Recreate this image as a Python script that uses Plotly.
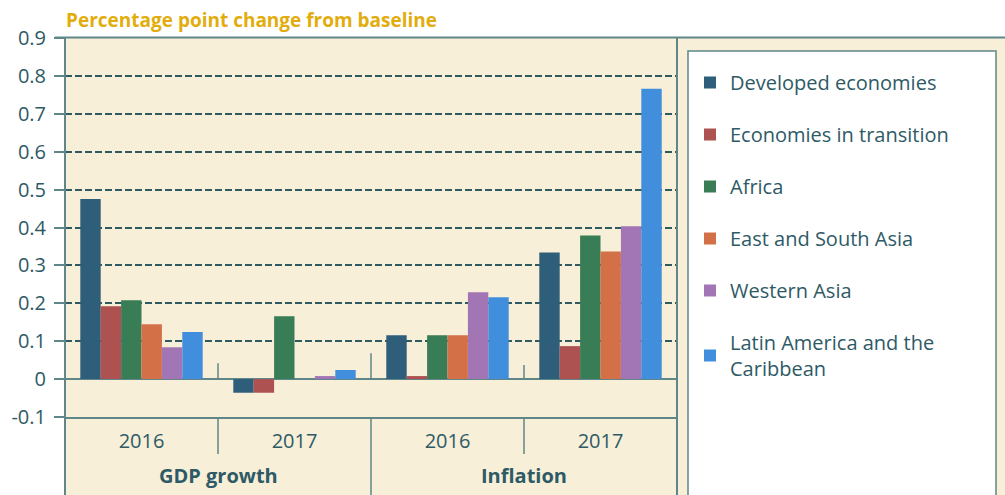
import plotly.graph_objects as go

# Scenario results: percentage point change from baseline
categories = ["GDP growth|2016", "GDP growth|2017", "Inflation|2016", "Inflation|2017"]
year_labels = ["2016", "2017", "2016", "2017"]
indicator_labels = ["GDP growth", "Inflation"]

series_names = [
    "Developed economies",
    "Economies in transition",
    "Africa",
    "East and South Asia",
    "Western Asia",
    "Latin America and the<br>Caribbean",
]
developed = [0.475, -0.036, 0.116, 0.334]
transition = [0.192, -0.036, 0.008, 0.087]
africa = [0.208, 0.166, 0.116, 0.379]
east_south_asia = [0.145, 0.0, 0.116, 0.337]
western_asia = [0.084, 0.008, 0.229, 0.403]
latin_america = [0.124, 0.024, 0.216, 0.766]

series_values = [developed, transition, africa, east_south_asia, western_asia, latin_america]
series_colors = ["#2e5e7a", "#ad5151", "#397d57", "#d47047", "#a276b4", "#418fdc"]

y_ticks = [-0.1, 0, 0.1, 0.2, 0.3, 0.4, 0.5, 0.6, 0.7, 0.8, 0.9]
y_tick_labels = ["-0.1", "0", "0.1", "0.2", "0.3", "0.4", "0.5", "0.6", "0.7", "0.8", "0.9"]

W, H = 1005, 495
FONT = "Open Sans"
TEXT = "#2e5a66"
LINE = "#5f8789"
CREAM = "#f7efd8"
GOLD = "#e2ad0c"


def px_x(p):
    return p / W


def px_y(p):
    return 1 - p / H


fig = go.Figure()
for i, (name, vals, col) in enumerate(zip(series_names, series_values, series_colors)):
    fig.add_trace(go.Bar(
        x=categories, y=vals, name=name, marker_color=col,
        marker_line_width=0, legendgroup=f"g{i}",
    ))

shapes = [
    # cream panel behind chart and key
    dict(type="rect", xref="paper", yref="paper", x0=px_x(65), x1=1.0,
         y0=0, y1=px_y(37), fillcolor=CREAM, line_width=0, layer="below"),
    # white key box
    dict(type="rect", xref="paper", yref="paper", x0=px_x(688), x1=px_x(996),
         y0=-0.05, y1=px_y(51), fillcolor="white",
         line=dict(color=LINE, width=1.5), layer="below"),
    # top rule at 0.9
    dict(type="line", xref="paper", yref="paper", x0=px_x(55), x1=1.0,
         y0=px_y(37.5), y1=px_y(37.5), line=dict(color=LINE, width=2)),
    # left frame line
    dict(type="line", xref="paper", yref="paper", x0=px_x(65), x1=px_x(65),
         y0=0, y1=px_y(37.5), line=dict(color=LINE, width=2)),
    # right frame line of the plot
    dict(type="line", xref="paper", yref="paper", x0=px_x(677), x1=px_x(677),
         y0=0, y1=px_y(37.5), line=dict(color=LINE, width=2)),
    # divider between indicators
    dict(type="line", xref="x", yref="paper", x0=1.5, x1=1.5,
         y0=0, y1=px_y(417), line=dict(color=LINE, width=1.5)),
    # dividers between years
    dict(type="line", xref="x", yref="paper", x0=0.5, x1=0.5,
         y0=px_y(454), y1=px_y(417), line=dict(color=LINE, width=1.5)),
    dict(type="line", xref="x", yref="paper", x0=2.5, x1=2.5,
         y0=px_y(454), y1=px_y(417), line=dict(color=LINE, width=1.5)),
    # short separators above the zero line
    dict(type="line", xref="x", yref="y", x0=0.5, x1=0.5, y0=0, y1=0.042,
         line=dict(color=LINE, width=1.5)),
    dict(type="line", xref="x", yref="y", x0=1.5, x1=1.5, y0=0, y1=0.068,
         line=dict(color=LINE, width=1.5)),
    dict(type="line", xref="x", yref="y", x0=2.5, x1=2.5, y0=0, y1=0.037,
         line=dict(color=LINE, width=1.5)),
]

annotations = [
    dict(text="<b>Percentage point change from baseline</b>", xref="paper", yref="paper",
         x=px_x(64), y=px_y(20), xanchor="left", yanchor="middle", showarrow=False,
         font=dict(family=FONT, size=19, color=GOLD)),
]
for k, lab in enumerate(indicator_labels):
    annotations.append(dict(
        text=f"<b>{lab}</b>", xref="x", yref="paper", x=0.5 + 2 * k, y=px_y(475),
        xanchor="center", yanchor="middle", showarrow=False,
        font=dict(family=FONT, size=20, color=TEXT)))

fig.update_layout(
    width=W, height=H,
    margin=dict(l=0, r=0, t=0, b=0, autoexpand=False),
    paper_bgcolor="white",
    plot_bgcolor=CREAM,
    barmode="group", bargap=0.2, bargroupgap=0,
    font=dict(family=FONT, color=TEXT, size=20),
    showlegend=True,
    legend=dict(
        x=px_x(690), y=px_y(63), xanchor="left", yanchor="top",
        bgcolor="rgba(0,0,0,0)", borderwidth=0,
        traceorder="grouped", tracegroupgap=23,
        font=dict(family=FONT, size=20, color=TEXT),
    ),
    xaxis=dict(
        domain=[px_x(65), px_x(677)],
        type="category", automargin=False,
        tickmode="array", tickvals=categories, ticktext=year_labels,
        ticks="", showline=True, linecolor=LINE, linewidth=2,
        ticklabelstandoff=5,
        tickfont=dict(family=FONT, size=20, color=TEXT),
    ),
    yaxis=dict(
        domain=[px_y(417), px_y(38)],
        range=[-0.1, 0.9], automargin=False,
        tickmode="array", tickvals=y_ticks, ticktext=y_tick_labels,
        ticks="outside", ticklen=10, tickcolor=LINE, tickwidth=1.5,
        ticklabelstandoff=4,
        showgrid=True, gridcolor="#2f5a5f", gridwidth=1.5, griddash="7px,3px",
        zeroline=True, zerolinecolor=LINE, zerolinewidth=2,
        showline=False,
        tickfont=dict(family=FONT, size=20, color=TEXT),
    ),
    shapes=shapes,
    annotations=annotations,
)

fig.write_html("out.html")
